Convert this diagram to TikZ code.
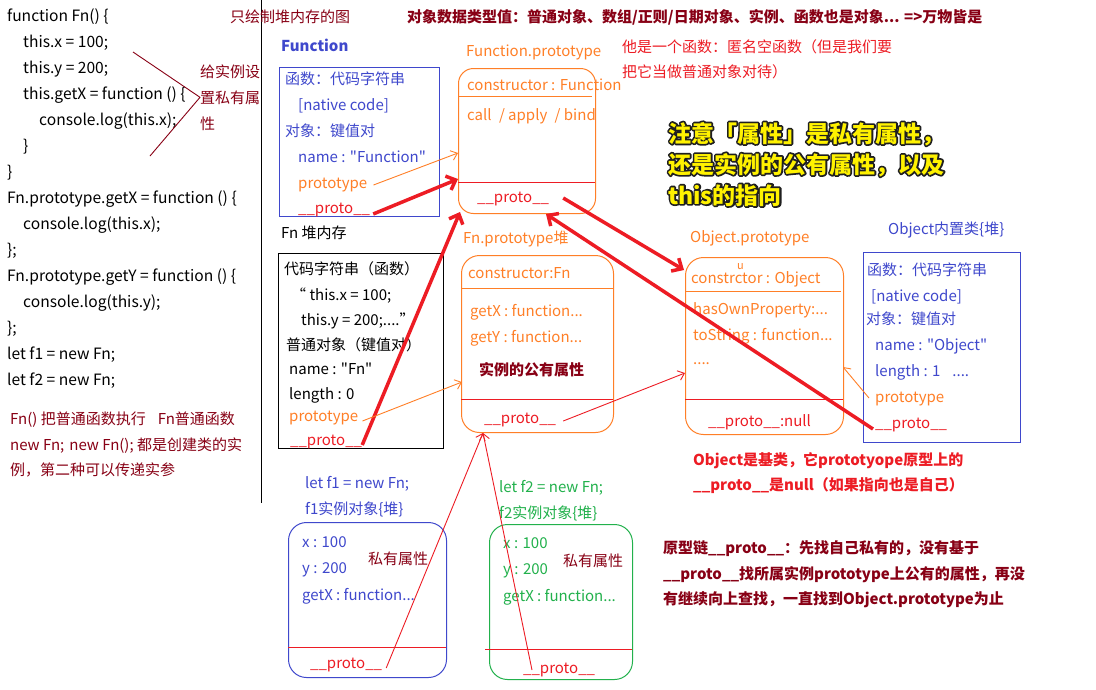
\documentclass[tikz,border=0pt]{standalone}
\usepackage{fontspec}
\setmainfont{Noto Sans CJK SC}[Ligatures=TeXOff]
\usetikzlibrary{arrows.meta,calc}
\definecolor{cblue}{HTML}{3F48CC}
\definecolor{corange}{HTML}{FF7F27}
\definecolor{cred}{HTML}{ED1C24}
\definecolor{cmaroon}{HTML}{880015}
\definecolor{cgreen}{HTML}{22B14C}
\definecolor{cyellow}{HTML}{FFF200}
% yellow text with a dark outline: a stroked copy under a filled copy
\newcommand\olt[1]{\rlap{\special{pdf:literal direct 1 j 3.4 w 0.12 0.12 0.12 RG 2 Tr}#1\special{pdf:literal direct 0 Tr}}#1}
\tikzset{
  txt/.style={anchor=base west, inner sep=0pt, font=\fontsize{15}{18}\selectfont},
  code/.style={txt, text=black},
  lcode/.style={txt, text=black, font=\fontsize{15.6}{18}\selectfont},
  tblue/.style={txt, text=cblue},
  torange/.style={txt, text=corange},
  tred/.style={txt, text=cred},
  tmaroon/.style={txt, text=cmaroon},
  tgreen/.style={txt, text=cgreen},
  bmaroon/.style={txt, text=cmaroon, font=\fontsize{15}{18}\selectfont\bfseries},
  bred/.style={txt, text=cred, font=\fontsize{15}{18}\selectfont\bfseries},
  yel/.style={txt, text=cyellow, font=\fontsize{23}{26}\selectfont\bfseries},
  sqbox/.style={draw=#1, line width=1pt, anchor=north west, inner sep=0pt},
  rbox/.style={draw=#1, line width=1pt, rounded corners=16pt, anchor=north west, inner sep=0pt},
  thickred/.style={draw=cred, line width=3.5pt, -{Straight Barb[length=8pt,width=15pt]}},
  thinred/.style={draw=cred, line width=0.9pt, -{Straight Barb[length=6pt,width=10pt]}},
  thinor/.style={draw=corange, line width=0.9pt, -{Straight Barb[length=6pt,width=10pt]}},
  noteline/.style={draw=cmaroon, line width=0.9pt},
}
\begin{document}
\begin{tikzpicture}[x=1pt,y=-1pt]
\useasboundingbox[fill=white] (0,0) rectangle (1096,689);

% ---------- code ----------
\node[lcode] (c1) at (7,21) {function Fn() \{};
\node[lcode] (c2) at (23,47) {this.x = 100;};
\node[lcode] (c3) at (23,73) {this.y = 200;};
\node[lcode] (c4) at (23,99) {this.getX = function () \{};
\node[lcode] (c5) at (39,125) {console.log(this.x);};
\node[lcode] (c6) at (23,151) {\}};
\node[lcode] (c7) at (7,177) {\}};
\node[lcode] (c8) at (7,203) {Fn.prototype.getX = function () \{};
\node[lcode] (c9) at (23,229) {console.log(this.x);};
\node[lcode] (c10) at (7,255) {\};};
\node[lcode] (c11) at (7,281) {Fn.prototype.getY = function () \{};
\node[lcode] (c12) at (23,307) {console.log(this.y);};
\node[lcode] (c13) at (7,333) {\};};
\node[lcode] (c14) at (7,359) {let f1 = new Fn;};
\node[lcode] (c15) at (7,385) {let f2 = new Fn;};

\node[tmaroon] (n1) at (10,424) {Fn() 把普通函数执行\hspace{12pt}Fn普通函数};
\node[tmaroon] (n2) at (10,450) {new Fn;\hspace{5pt}new Fn(); 都是创建类的实};
\node[tmaroon] (n3) at (10,475) {例，第二种可以传递实参};

\node[tmaroon] (g1) at (200,77) {给实例设};
\node[tmaroon] (g2) at (200,103) {置私有属};
\node[tmaroon] (g3) at (200,129) {性};
\coordinate (gl1) at (133,52);
\coordinate (gl2) at (150,156);
\draw[noteline] (gl1) -- (g2.west) -- (gl2);

\draw[line width=1pt] (261,0) -- (261,503);

% ---------- header ----------
\node[tmaroon] (hdr1) at (230,22) {只绘制堆内存的图};
\node[bmaroon] (hdr2) at (407,22) {对象数据类型值：普通对象、数组/正则/日期对象、实例、函数也是对象... =>万物皆是};

% ---------- Function ----------
\node[txt, text=cblue, font=\fontsize{15}{18}\selectfont\bfseries] (lFunc) at (281,51) {Function};
\node[sqbox=cblue, minimum width=160pt, minimum height=149pt] (boxF) at (279,67) {};
\node[tblue] (F1) at (285,84) {函数：代码字符串};
\node[tblue] (F2) at (298,110) {[native code]};
\node[tblue] (F3) at (285,136) {对象：键值对};
\node[tblue] (F4) at (298,162) {name : "Function"};
\node[torange] (F5) at (298,188) {prototype};
\node[tred] (F6) at (298,213) {\_\_proto\_\_};

% ---------- Function.prototype ----------
\node[torange] (lFP) at (466,56) {Function.prototype};
\node[rbox=corange, minimum width=137pt, minimum height=145pt, rounded corners=15pt] (boxFP) at (458,68) {};
\draw[corange, line width=1pt] (458,96) -- (592,96);
\draw[cred, line width=1pt] (458,182) -- (595,182);
\node[torange] (FP1) at (467,90) {constructor : Function};
\node[torange] (FP2) at (467,120) {call\hspace{4pt} / apply\hspace{4pt} / bind};
\node[tred] (FP3) at (477,202) {\_\_proto\_\_};

\node[tred] (r1) at (622,52) {他是一个函数：匿名空函数（但是我们要};
\node[tred] (r2) at (622,77) {把它当做普通对象对待）};

\node[yel] (y1) at (668,142) {\olt{注意「属性」是私有属性，}};
\node[yel] (y2) at (668,173) {\olt{还是实例的公有属性，以及}};
\node[yel] (y3) at (668,204) {\olt{this的指向}};

% ---------- Fn ----------
\node[code] (lFn) at (281,238) {Fn 堆内存};
\node[sqbox=black, minimum width=165pt, minimum height=195pt] (boxFn) at (278,253) {};
\node[code] (Fn1) at (284,274) {代码字符串（函数）};
\node[code] (Fn2) at (291,300) {“ this.x = 100;};
\node[code] (Fn3) at (301,325) {this.y = 200;....”};
\node[code] (Fn4) at (286,350) {普通对象（键值对）};
\node[code] (Fn5) at (289,374) {name : "Fn"};
\node[code] (Fn6) at (289,399) {length : 0};
\node[torange] (Fn7) at (289,421) {prototype};
\node[tred] (Fn8) at (290,445) {\_\_proto\_\_};

% ---------- Fn.prototype ----------
\node[torange] (lFnP) at (463,243) {Fn.prototype堆};
\node[rbox=corange, minimum width=152pt, minimum height=177pt, rounded corners=18pt] (boxFnP) at (461,255) {};
\draw[corange, line width=1pt] (461,288) -- (613,288);
\draw[cred, line width=1pt] (461,399) -- (613,399);
\node[torange] (FnP1) at (468,278) {constructor:Fn};
\node[torange] (FnP2) at (470,316) {getX : function...};
\node[torange] (FnP3) at (470,342) {getY : function...};
\node[bmaroon] (FnP4) at (479,375) {实例的公有属性};
\node[tred] (FnP5) at (484,423) {\_\_proto\_\_};

% ---------- Object.prototype ----------
\node[torange] (lOP) at (690,242) {Object.prototype};
\node[rbox=corange, minimum width=158pt, minimum height=177pt, rounded corners=18pt] (boxOP) at (685,257) {};
\draw[corange, line width=1pt] (685,291) -- (841,291);
\draw[cred, line width=1pt] (685,399) -- (843,399);
\node[torange] (OP1) at (691,283) {constrctor : Object};
\node[txt, text=corange, font=\fontsize{11}{12}\selectfont] (OPu) at (737,269.5) {u};
\node[torange] (OP2) at (693,314) {hasOwnProperty:...};
\node[torange] (OP3) at (693,340) {toString : function...};
\node[torange] (OP4) at (693,364) {....};
\node[tred] (OP5) at (708,426) {\_\_proto\_\_:null};

% ---------- Object ----------
\node[tblue] (lO) at (888,234) {Object内置类\{堆\}};
\node[sqbox=cblue, minimum width=157pt, minimum height=190pt] (boxO) at (863,252) {};
\node[tblue] (O1) at (867,275) {函数：代码字符串};
\node[tblue] (O2) at (871,301) {[native code]};
\node[tblue] (O3) at (866,324) {对象：键值对};
\node[tblue] (O4) at (875,350) {name : "Object"};
\node[tblue] (O5) at (875,376) {length : 1\hspace{12pt}....};
\node[torange] (O6) at (875,402) {prototype};
\node[tred] (O7) at (875,428) {\_\_proto\_\_};

% ---------- notes ----------
\node[bred] (on1) at (693,465) {Object是基类，它prototyope原型上的};
\node[bred] (on2) at (693,490) {\_\_proto\_\_是null（如果指向也是自己）};
\node[bmaroon] (pc1) at (663,553) {原型链\_\_proto\_\_：先找自己私有的，没有基于};
\node[bmaroon] (pc2) at (663,579) {\_\_proto\_\_找所属实例prototype上公有的属性，再没};
\node[bmaroon] (pc3) at (663,604) {有继续向上查找，一直找到Object.prototype为止};

% ---------- f1 ----------
\node[tblue] (lf1a) at (305,488) {let f1 = new Fn;};
\node[tblue] (lf1b) at (305,514) {f1实例对象\{堆\}};
\node[rbox=cblue, minimum width=158pt, minimum height=155pt, rounded corners=18pt] (boxf1) at (288,522) {};
\draw[cred, line width=1pt] (288,647) -- (446,647);
\node[tblue] (f1x) at (302,547) {x : 100};
\node[tblue] (f1y) at (302,573) {y : 200};
\node[tblue] (f1g) at (302,600) {getX : function...};
\node[tmaroon] (f1s) at (368,564) {私有属性};
\node[tred] (f1p) at (310,668) {\_\_proto\_\_};

% ---------- f2 ----------
\node[tgreen] (lf2a) at (499,492) {let f2 = new Fn;};
\node[tgreen] (lf2b) at (499,518) {f2实例对象\{堆\}};
\node[rbox=cgreen, minimum width=143pt, minimum height=155pt, rounded corners=18pt] (boxf2) at (489,524) {};
\draw[cred, line width=1pt] (485,649) -- (632,649);
\node[tgreen] (f2x) at (503,548) {x : 100};
\node[tgreen] (f2y) at (503,574) {y : 200};
\node[tgreen] (f2g) at (503,601) {getX : function...};
\node[tmaroon] (f2s) at (563,566) {私有属性};
\node[tred] (f2p) at (523,673) {\_\_proto\_\_};

% ---------- arrow targets ----------
\coordinate (tFP1) at (458,153);
\coordinate (tFP2) at (458,179);
\coordinate (tFP3) at (460,212);
\coordinate (tFP4) at (546,214);
\coordinate (tOP1) at (684,270);
\coordinate (tOP2) at (685,373);
\coordinate (tOP3) at (843,367);
\coordinate (tFnP1) at (462,382);
\coordinate (tFnP2) at (483,433);

% ---------- connectors ----------
\draw[thinor] ($(F5.base east)+(6,-3)$) -- (tFP1);
\draw[thickred] ($(F6.base east)+(3,1)$) -- (tFP2);
\draw[thickred] ($(Fn8.base east)+(0,0)$) -- (tFP3);
\draw[thickred] ($(FP3.base east)+(14,-4)$) -- (tOP1);
\draw[thickred] ($(O7.base west)+(-2,1)$) -- (tFP4);
\draw[thinred] ($(FnP5.base east)+(7,-2)$) -- (tOP2);
\draw[thinor] ($(Fn7.base east)+(4,0)$) -- (tFnP1);
\draw[thinor] ($(O6.base west)+(-6,-4)$) -- (tOP3);
\draw[thinred] ($(f1p.base east)+(4,0)$) -- (tFnP2);
\draw[thinred] ($(f2p.base west)+(9,-3)$) -- (tFnP2);
\end{tikzpicture}
\end{document}
